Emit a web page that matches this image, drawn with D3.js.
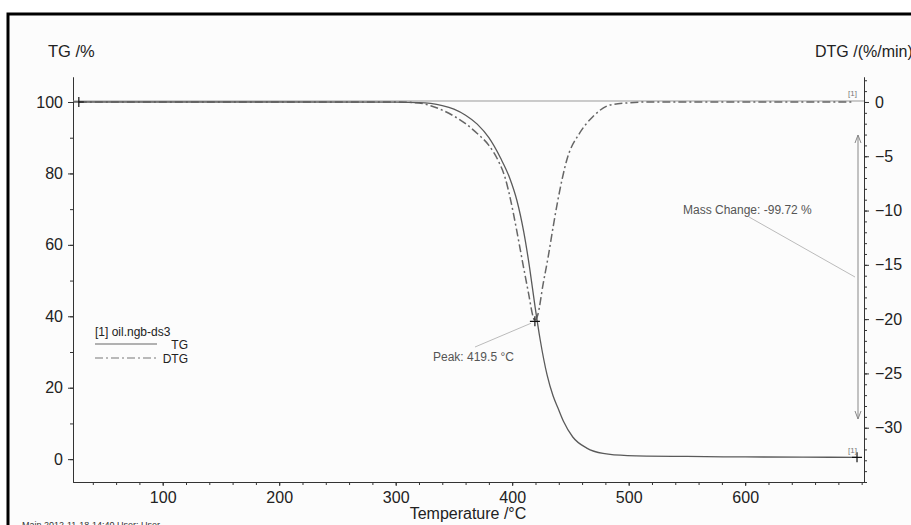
<!DOCTYPE html>
<html>
<head>
<meta charset="utf-8">
<script src="https://cdn.jsdelivr.net/npm/d3@7"></script>
<style>
  body { margin: 0; background: #fff; }
  svg { display: block; font-family: "Liberation Sans", Arial, sans-serif; }
  .axis path, .axis line { stroke: #333; }
  .axis text { font-size: 16px; fill: #222; }
</style>
</head>
<body>
<div id="chart"></div>
<script>
// TG / DTG curves
var tgTemp = [28, 100, 200, 300, 320, 330, 340, 350, 360, 370, 380, 390, 398, 404, 410, 415, 419.5, 424, 430, 435, 439.3, 444, 452, 464, 478, 499, 550, 600, 650, 696];
var tgVal  = [100, 100, 100, 99.95, 99.85, 99.6, 99.0, 98.0, 96.3, 93.8, 90.0, 84.3, 78.6, 72.5, 63.5, 53.5, 43, 33.5, 23.5, 17.8, 14.3, 10.6, 6.2, 3.1, 1.6, 1.0, 0.75, 0.62, 0.55, 0.5];

var dtgTemp = [28, 100, 200, 300, 320, 330, 340, 350, 360, 370, 380, 388, 394, 399, 404, 409, 414, 418, 419.5, 422, 426.5, 431, 435, 439.3, 447, 458, 469, 484, 499, 518, 600, 692];
var dtgVal  = [0, 0, 0, 0, -0.1, -0.35, -0.75, -1.3, -2.0, -2.9, -4.0, -5.4, -7.0, -9.2, -11.9, -14.8, -17.6, -19.8, -20.2, -19.6, -16.8, -14.2, -11.6, -9.0, -5.3, -2.85, -1.38, -0.28, -0.09, 0, 0, 0];

var xTicks = [100, 200, 300, 400, 500, 600];
var tgTicks = [0, 20, 40, 60, 80, 100];
var dtgTicks = [0, -5, -10, -15, -20, -25, -30];

var peakTemp = 419.5, peakDtg = -20.2;
var massChange = -99.72;

var W = 911, H = 525;
var plotLeft = 73, plotRight = 864, plotTop = 77, plotBottom = 482;

var svg = d3.select("#chart").append("svg")
    .attr("width", W)
    .attr("height", H);

// scanned page frame
svg.append("rect")
    .attr("x", 8).attr("y", 14)
    .attr("width", 1000).attr("height", 700)
    .attr("fill", "#fcfcfc")
    .attr("stroke", "#000")
    .attr("stroke-width", 3);

// scales
var x = d3.scaleLinear().domain([23, 702]).range([plotLeft, plotRight]);
var yTG = d3.scaleLinear().domain([-6.4, 107]).range([plotBottom, plotTop]);
var yDTG = d3.scaleLinear().domain([-35, 2.3]).range([plotBottom, plotTop]);

// minor ticks
svg.append("g").attr("class", "axis")
    .attr("transform", "translate(0," + plotBottom + ")")
    .call(d3.axisBottom(x).tickValues(d3.range(40, 701, 20)).tickSize(3).tickFormat("").tickSizeOuter(0));
svg.append("g").attr("class", "axis")
    .attr("transform", "translate(" + plotLeft + ",0)")
    .call(d3.axisLeft(yTG).tickValues(d3.range(0, 101, 10)).tickSize(3).tickFormat("").tickSizeOuter(0));
svg.append("g").attr("class", "axis")
    .attr("transform", "translate(" + plotRight + ",0)")
    .call(d3.axisRight(yDTG).tickValues(d3.range(-35, 3, 1)).tickSize(3).tickFormat("").tickSizeOuter(0));

// major ticks with labels
svg.append("g").attr("class", "axis")
    .attr("transform", "translate(0," + plotBottom + ")")
    .call(d3.axisBottom(x).tickValues(xTicks).tickSize(4).tickPadding(6).tickSizeOuter(0));
svg.append("g").attr("class", "axis")
    .attr("transform", "translate(" + plotLeft + ",0)")
    .call(d3.axisLeft(yTG).tickValues(tgTicks).tickSize(5).tickPadding(5).tickSizeOuter(0));
svg.append("g").attr("class", "axis")
    .attr("transform", "translate(" + plotRight + ",0)")
    .call(d3.axisRight(yDTG).tickValues(dtgTicks).tickSize(5).tickPadding(6).tickSizeOuter(0));

// axis titles
svg.append("text").attr("x", 48).attr("y", 57)
    .attr("font-size", 16.5).attr("fill", "#222").text("TG /%");
svg.append("text").attr("x", 815).attr("y", 57)
    .attr("font-size", 16).attr("fill", "#222").text("DTG /(%/min)");
svg.append("text").attr("x", 468).attr("y", 519)
    .attr("text-anchor", "middle")
    .attr("font-size", 16).attr("fill", "#222").text("Temperature /°C");
svg.append("text").attr("x", 22).attr("y", 528)
    .attr("font-size", 9).attr("fill", "#333").text("Main    2012-11-18 14:40    User: User");

// 100 % reference line for the mass step
svg.append("line")
    .attr("x1", plotLeft).attr("x2", plotRight)
    .attr("y1", yTG(100) - 1).attr("y2", yTG(100) - 1)
    .attr("stroke", "#999").attr("stroke-width", 1);

// curves
var tgData = tgTemp.map(function(t, i) { return [t, tgVal[i]]; });
var dtgData = dtgTemp.map(function(t, i) { return [t, dtgVal[i]]; });

var tgLine = d3.line().x(d => x(d[0])).y(d => yTG(d[1])).curve(d3.curveMonotoneX);
var dtgLine = d3.line().x(d => x(d[0])).y(d => yDTG(d[1])).curve(d3.curveMonotoneX);

var dashDot = "8,3,2,3";

svg.append("path").datum(dtgData)
    .attr("d", dtgLine)
    .attr("fill", "none")
    .attr("stroke", "#666")
    .attr("stroke-width", 1.5)
    .attr("stroke-dasharray", dashDot);

svg.append("path").datum(tgData)
    .attr("d", tgLine)
    .attr("fill", "none")
    .attr("stroke", "#5a5a5a")
    .attr("stroke-width", 1.3);

// cross markers
function cross(cx, cy) {
  svg.append("path")
      .attr("d", "M" + (cx - 5) + "," + cy + "h10M" + cx + "," + (cy - 5) + "v10")
      .attr("stroke", "#111").attr("stroke-width", 1.2);
}
cross(x(tgTemp[0]), yTG(tgVal[0]));
cross(x(peakTemp), yDTG(peakDtg));
cross(x(tgTemp[tgTemp.length - 1]), yTG(tgVal[tgVal.length - 1]));

// [1] tags at curve ends
svg.append("text").attr("x", 848).attr("y", 96)
    .attr("font-size", 8).attr("fill", "#777").text("[1]");
svg.append("text").attr("x", 848).attr("y", 453)
    .attr("font-size", 8).attr("fill", "#777").text("[1]");

// peak annotation
svg.append("line")
    .attr("x1", 475).attr("y1", 347)
    .attr("x2", x(peakTemp) - 4).attr("y2", yDTG(peakDtg) + 2)
    .attr("stroke", "#bbb");
svg.append("text").attr("x", 433).attr("y", 361)
    .attr("font-size", 12).attr("fill", "#555")
    .text("Peak: " + peakTemp + " °C");

// mass change arrow
var ax = 858, ay1 = 135, ay2 = 419;
svg.append("line")
    .attr("x1", ax).attr("x2", ax).attr("y1", ay1).attr("y2", ay2)
    .attr("stroke", "#888").attr("stroke-width", 1);
svg.append("path")
    .attr("d", "M" + (ax - 3) + "," + (ay1 + 8) + "L" + ax + "," + ay1 + "L" + (ax + 3) + "," + (ay1 + 8) +
               "M" + (ax - 3) + "," + (ay2 - 8) + "L" + ax + "," + ay2 + "L" + (ax + 3) + "," + (ay2 - 8))
    .attr("fill", "none").attr("stroke", "#888");
svg.append("line")
    .attr("x1", 749).attr("y1", 217).attr("x2", 855).attr("y2", 277)
    .attr("stroke", "#bbb");
svg.append("text").attr("x", 683).attr("y", 214)
    .attr("font-size", 12).attr("fill", "#555")
    .text("Mass Change: " + massChange + " %");

// legend
var lg = svg.append("g");
lg.append("text").attr("x", 95).attr("y", 336)
    .attr("font-size", 12).attr("fill", "#222").text("[1] oil.ngb-ds3");
lg.append("line").attr("x1", 95).attr("x2", 157).attr("y1", 344).attr("y2", 344)
    .attr("stroke", "#666").attr("stroke-width", 1.2);
lg.append("text").attr("x", 188).attr("y", 349).attr("text-anchor", "end")
    .attr("font-size", 12).attr("fill", "#222").text("TG");
lg.append("line").attr("x1", 95).attr("x2", 157).attr("y1", 358).attr("y2", 358)
    .attr("stroke", "#777").attr("stroke-width", 1.2).attr("stroke-dasharray", dashDot);
lg.append("text").attr("x", 188).attr("y", 363).attr("text-anchor", "end")
    .attr("font-size", 12).attr("fill", "#222").text("DTG");
</script>
</body>
</html>
